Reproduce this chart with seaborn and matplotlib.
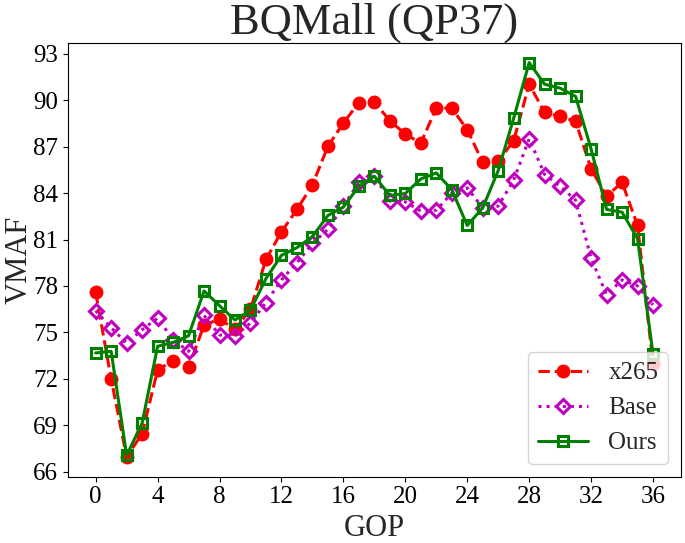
import matplotlib
matplotlib.use("Agg")
import matplotlib.pyplot as plt
import seaborn as sns
import pandas as pd
import numpy as np

gop = list(range(37))
x265 = [77.58, 72.0, 66.94, 68.45, 72.57, 73.17, 72.74, 75.47, 75.86, 75.2, 76.5, 79.72, 81.5,
        82.95, 84.53, 87.03, 88.53, 89.86, 89.9, 88.68, 87.82, 87.24, 89.5, 89.5, 88.1, 86.0,
        86.06, 87.39, 91.04, 89.22, 88.96, 88.64, 85.57, 83.8, 84.7, 81.91, 72.96]
base = [76.4, 75.3, 74.3, 75.17, 75.92, 74.53, 73.77, 76.1, 74.83, 74.78, 75.6, 76.93, 78.39,
        79.51, 80.75, 81.66, 83.16, 84.7, 85.14, 83.48, 83.44, 82.84, 82.9, 84.0, 84.34, 83.05,
        83.16, 84.84, 87.52, 85.2, 84.45, 83.55, 79.79, 77.43, 78.39, 78.0, 76.78]
ours = [73.67, 73.77, 67.05, 69.13, 74.1, 74.35, 74.78, 77.68, 76.72, 75.8, 76.44, 78.48, 79.98,
        80.48, 81.19, 82.56, 83.1, 84.45, 85.1, 83.85, 83.98, 84.92, 85.31, 84.23, 81.91, 83.05,
        85.46, 88.85, 92.44, 91.04, 90.79, 90.25, 86.86, 82.95, 82.77, 81.06, 73.6]
yticks = [66, 69, 72, 75, 78, 81, 84, 87, 90, 93]
xticks = [0, 4, 8, 12, 16, 20, 24, 28, 32, 36]

sns.set_style("ticks")
plt.rcParams['font.family'] = ['Liberation Serif', 'DejaVu Serif']

fig, ax = plt.subplots(figsize=(6.85, 5.43), dpi=100)
fig.subplots_adjust(left=0.099, right=0.994, top=0.921, bottom=0.122)

df = pd.DataFrame({"GOP": gop, "x265": x265, "Base": base, "Ours": ours})

sns.lineplot(data=df, x="GOP", y="x265", ax=ax, color="r", linestyle="--", linewidth=2.2,
             marker="o", markersize=9, markeredgecolor="r", markeredgewidth=1, label="x265")
sns.lineplot(data=df, x="GOP", y="Base", ax=ax, color="m", linestyle=":", linewidth=2.2,
             marker="D", markersize=7.5, markerfacecolor="none", markeredgecolor="m",
             markeredgewidth=2.2, label="Base")
sns.lineplot(data=df, x="GOP", y="Ours", ax=ax, color="g", linestyle="-", linewidth=2.2,
             marker="s", markersize=7.5, markerfacecolor="none", markeredgecolor="g",
             markeredgewidth=2.2, label="Ours")

ax.set_xticks(xticks)
ax.set_yticks(yticks)
ax.tick_params(labelsize=18, colors="black")
ax.set_xlabel("GOP", fontsize=22)
ax.set_ylabel("VMAF", fontsize=22)
ax.yaxis.set_label_coords(-0.056, 0.5)
ax.set_title("BQMall (QP37)", fontsize=32)
for s in ax.spines.values():
    s.set_color("black")
ax.grid(False)
ax.legend(loc="lower right", fontsize=18)

fig.savefig("out.png", dpi=100)
